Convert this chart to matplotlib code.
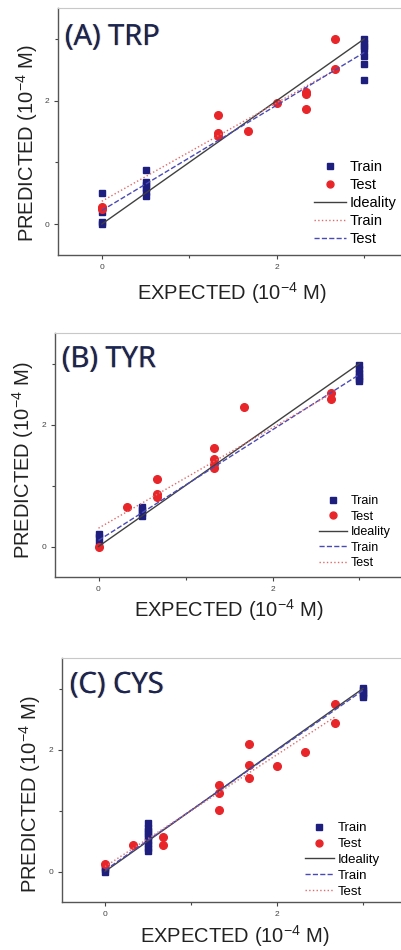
import numpy as np
import matplotlib
matplotlib.use('Agg')
import matplotlib.pyplot as plt
from matplotlib.lines import Line2D
import matplotlib.patheffects as pe

plt.rcParams['font.family'] = ['Liberation Sans', 'DejaVu Sans']
plt.rcParams['mathtext.default'] = 'regular'

# ---- data ----
# (A) TRP
a_train_x = [0, 0, 0, 0, 0.5, 0.5, 0.5, 0.5, 0.5, 0.5, 3, 3, 3, 3, 3, 3, 3]
a_train_y = [0.5, 0.2, 0.03, 0.0, 0.88, 0.68, 0.63, 0.58, 0.52, 0.45,
             3.0, 2.94, 2.89, 2.83, 2.72, 2.6, 2.33]
a_test_x = [0, 0, 1.33, 1.33, 1.33, 1.67, 2, 2.33, 2.33, 2.33, 2.67, 2.67]
a_test_y = [0.28, 0.24, 1.77, 1.48, 1.43, 1.51, 1.96, 2.14, 2.11, 1.87, 3.0, 2.51]
a_fit_red_x, a_fit_red_y = [0, 2.67], [0.37, 2.5]
a_fit_blue_x, a_fit_blue_y = [0, 3], [0.22, 2.78]

# (B) TYR
b_train_x = [0, 0, 0, 0.5, 0.5, 0.5, 0.5, 3, 3, 3, 3, 3, 3]
b_train_y = [0.2, 0.15, 0.05, 0.65, 0.6, 0.55, 0.5, 2.97, 2.91, 2.85, 2.8, 2.75, 2.71]
b_test_x = [0, 0.33, 0.67, 0.67, 0.67, 1.33, 1.33, 1.33, 1.33, 1.67, 2.67, 2.67]
b_test_y = [0.0, 0.64, 1.11, 0.86, 0.81, 1.62, 1.43, 1.35, 1.28, 2.29, 2.52, 2.41]
b_fit_blue_x, b_fit_blue_y = [0, 3], [0.1, 2.82]
b_fit_red_x, b_fit_red_y = [0, 2.67], [0.3, 2.5]

# (C) CYS
c_train_x = [0, 0, 0] + [0.5] * 9 + [3] * 5
c_train_y = [0.08, 0.04, 0.0, 0.79, 0.72, 0.67, 0.61, 0.56, 0.5, 0.45, 0.39, 0.34,
             3.01, 2.97, 2.93, 2.89, 2.86]
c_test_x = [0, 0.33, 0.67, 0.67, 1.33, 1.33, 1.33, 1.67, 1.67, 1.67, 2, 2.33, 2.67, 2.67]
c_test_y = [0.12, 0.44, 0.56, 0.44, 1.42, 1.28, 1.01, 2.09, 1.75, 1.54, 1.73, 1.96, 2.75, 2.44]
c_fit_blue_x, c_fit_blue_y = [0, 3], [0.02, 2.97]
c_fit_red_x, c_fit_red_y = [0, 2.67], [0.08, 2.53]

ideal_x = [0, 3]
ideal_y = [0, 3]

NAVY = '#1e1e7e'
RED = '#e8262a'
BLUE_LINE = '#4a4ab4'
RED_LINE = '#e06a6a'
GREY = '#404040'

fig = plt.figure(figsize=(4.01, 9.5), dpi=100)

panels = [
    dict(pos=[58 / 401, 1 - 255 / 950, 350 / 401, 247 / 950], title='(A) TRP',
         train=(a_train_x, a_train_y), test=(a_test_x, a_test_y),
         fits=[(a_fit_red_x, a_fit_red_y, RED_LINE, ':', 'Train'),
               (a_fit_blue_x, a_fit_blue_y, BLUE_LINE, '--', 'Test')],
         tpos=(0.02, 0.85), xl=(0.497, -0.154), yl=(-0.089, 0.453),
         leg=(0.73, 0.385), lfs=10.5),
    dict(pos=[55 / 401, 1 - 577 / 950, 348 / 401, 244 / 950], title='(B) TYR',
         train=(b_train_x, b_train_y), test=(b_test_x, b_test_y),
         fits=[(b_fit_blue_x, b_fit_blue_y, BLUE_LINE, '--', 'Train'),
               (b_fit_red_x, b_fit_red_y, RED_LINE, ':', 'Test')],
         tpos=(0.02, 0.86), xl=(0.5, -0.135), yl=(-0.092, 0.48),
         leg=(0.76, 0.336), lfs=9),
    dict(pos=[62 / 401, 1 - 902 / 950, 344 / 401, 244 / 950], title='(C) CYS',
         train=(c_train_x, c_train_y), test=(c_test_x, c_test_y),
         fits=[(c_fit_blue_x, c_fit_blue_y, BLUE_LINE, '--', 'Train'),
               (c_fit_red_x, c_fit_red_y, RED_LINE, ':', 'Test')],
         tpos=(0.023, 0.857), xl=(0.503, -0.14), yl=(-0.093, 0.443),
         leg=(0.706, 0.328), lfs=9.5),
]

for p in panels:
    ax = fig.add_axes(p['pos'])
    ax.plot(p['train'][0], p['train'][1], 's', color=NAVY, ms=5, ls='none', zorder=3)
    ax.plot(p['test'][0], p['test'][1], 'o', color=RED, ms=5.5, ls='none', zorder=3)
    ax.plot(ideal_x, ideal_y, '-', color=GREY, lw=1, zorder=4)
    handles = [Line2D([], [], marker='s', color=NAVY, ls='none', ms=4.5),
               Line2D([], [], marker='o', color=RED, ls='none', ms=5),
               Line2D([], [], color=GREY, lw=1)]
    labels = ['Train', 'Test', 'Ideality']
    for fx, fy, col, ls, lab in p['fits']:
        ax.plot(fx, fy, ls, color=col, lw=1, zorder=4)
        handles.append(Line2D([], [], color=col, ls=ls, lw=1))
        labels.append(lab)

    ax.set_xlim(-0.5, 3.5)
    ax.set_ylim(-0.5, 3.5)
    ax.set_xticks([0, 2])
    ax.set_yticks([0, 2])
    ax.set_xticks([1, 3], minor=True)
    ax.set_yticks([1, 3], minor=True)
    ax.tick_params(which='both', direction='out', labelsize=6, colors='#444444',
                   length=3, width=0.8)
    ax.tick_params(which='minor', length=2)
    for side in ['left', 'bottom']:
        ax.spines[side].set_color('#555555')
        ax.spines[side].set_linewidth(1)
    ax.spines['top'].set_color('#c8c8c8')
    ax.spines['right'].set_visible(False)

    ax.set_xlabel('EXPECTED (10$^{-4}$ M)', fontsize=14.5, color='#222222', va='center')
    ax.set_ylabel('PREDICTED (10$^{-4}$ M)', fontsize=14.5, color='#222222', va='center')
    ax.xaxis.set_label_coords(*p['xl'])
    ax.yaxis.set_label_coords(*p['yl'])

    ax.text(p['tpos'][0], p['tpos'][1], p['title'], transform=ax.transAxes,
            fontsize=21, family='Open Sans', color='#1c2550', va='baseline',
            path_effects=[pe.withSimplePatchShadow(offset=(-0.7, 0), shadow_rgbFace='#f0a030', alpha=0.6),
                          pe.withSimplePatchShadow(offset=(0.7, 0), shadow_rgbFace='#3070d0', alpha=0.4)])

    ax.legend(handles, labels, loc='upper left', bbox_to_anchor=p['leg'],
              frameon=False, fontsize=p['lfs'], handlelength=2.2,
              handletextpad=0.3, borderaxespad=0, borderpad=0, labelspacing=0.28)

fig.savefig('out.png', dpi=100)
